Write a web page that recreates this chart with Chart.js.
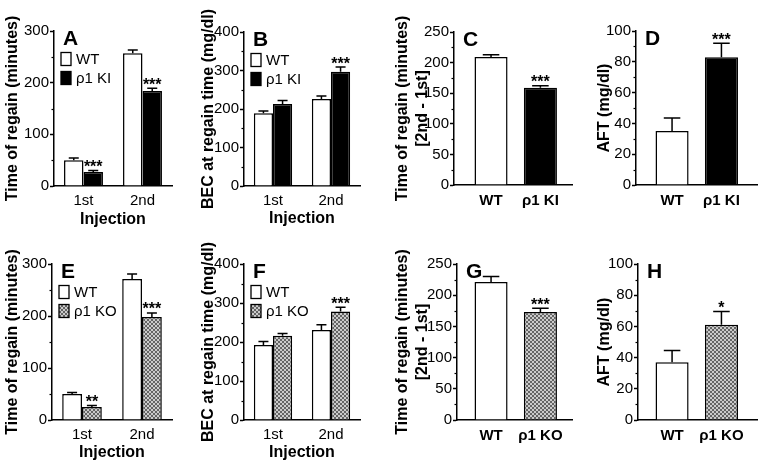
<!DOCTYPE html>
<html>
<head>
<meta charset="utf-8">
<script src="https://cdn.jsdelivr.net/npm/chart.js@4.4.0/dist/chart.umd.min.js"></script>
<style>
  body { margin: 0; background: #fff; }
  #fig { position: relative; width: 762px; height: 467px; overflow: hidden; background: #fff; }
  #fig canvas { position: absolute; }
</style>
</head>
<body>
<div id="fig"></div>
<script>
// ---- data ----
const injections = ['1st', '2nd'];
const kiGroups = ['WT', 'ρ1 KI'];
const koGroups = ['WT', 'ρ1 KO'];

// A: time of regain, WT vs rho1 KI
const regainWT_A = [50, 257];
const regainWT_A_err = [4, 6];
const regainKI = [27, 184];
const regainKI_err = [3, 5];
const regainKI_stars = ['***', '***'];

// B: BEC at regain time
const becWT_B = [189, 226];
const becWT_B_err = [6, 8];
const becKI = [213, 297];
const becKI_err = [9, 12];
const becKI_stars = ['', '***'];

// C: time of regain difference
const diffKI = [209, 159];
const diffKI_err = [4, 3];
const diffKI_stars = ['', '***'];

// D: AFT
const aftKI = [35, 83];
const aftKI_err = [8.5, 9];
const aftKI_stars = ['', '***'];

// E: time of regain, WT vs rho1 KO
const regainWT_E = [50, 271];
const regainWT_E_err = [3, 10];
const regainKO = [25, 198];
const regainKO_err = [3, 8];
const regainKO_stars = ['**', '***'];

// F: BEC at regain time
const becWT_F = [192, 231];
const becWT_F_err = [9, 13];
const becKO = [216, 278];
const becKO_err = [6, 11];
const becKO_stars = ['', '***'];

// G: time of regain difference
const diffKO = [221, 173];
const diffKO_err = [9, 6];
const diffKO_stars = ['', '***'];

// H: AFT
const aftKO = [37, 61];
const aftKO_err = [7.5, 8.5];
const aftKO_stars = ['', '*'];

// ---- styling ----
const FONT = '"Liberation Sans", Arial, Helvetica, sans-serif';
Chart.defaults.font.family = FONT;
Chart.defaults.color = '#000';
Chart.defaults.animation = false;

// crosshatch fill for the KO bars
const pc = document.createElement('canvas');
pc.width = pc.height = 4;
const pg = pc.getContext('2d');
pg.fillStyle = '#cacaca';
pg.fillRect(0, 0, 4, 4);
pg.fillStyle = '#646464';
for (let i = 0; i < 4; i++) { pg.fillRect(i, i, 1, 1); pg.fillRect(3 - i, i, 1, 1); }
const HATCH = pg.createPattern(pc, 'repeat');
const WHITE = '#ffffff';
const BLACK = '#000000';

// error bars, significance stars, panel letter, inline legend, minor ticks
const decor = {
  id: 'decor',
  afterDatasetsDraw(chart, args, opts) {
    const ctx = chart.ctx;
    const y = chart.scales.y;
    const area = chart.chartArea;
    ctx.save();

    // minor ticks on the y axis
    ctx.strokeStyle = '#000';
    ctx.lineWidth = 1.2;
    const step = y.options.ticks.stepSize;
    for (let v = step / 2; v < y.max; v += step) {
      const py = Math.round(y.getPixelForValue(v)) + 0.5;
      ctx.beginPath();
      ctx.moveTo(area.left - 2.5, py);
      ctx.lineTo(area.left, py);
      ctx.stroke();
    }

    chart.data.datasets.forEach((ds, i) => {
      const meta = chart.getDatasetMeta(i);
      meta.data.forEach((bar, j) => {
        const p = bar.getProps(['x', 'y', 'width'], true);
        const val = meta.controller.getParsed(j).y;
        const yTop = y.getPixelForValue(val + ds.errors[j]);
        const half = Math.max(5, p.width / 4);
        ctx.strokeStyle = '#000';
        ctx.lineWidth = 1.5;
        ctx.beginPath();
        ctx.moveTo(p.x, p.y);
        ctx.lineTo(p.x, yTop);
        ctx.moveTo(p.x - half, yTop);
        ctx.lineTo(p.x + half, yTop);
        ctx.stroke();
        const s = ds.stars && ds.stars[j];
        if (s) {
          ctx.fillStyle = '#000';
          ctx.font = 'bold 16px ' + FONT;
          ctx.textAlign = 'center';
          ctx.textBaseline = 'alphabetic';
          ctx.fillText(s, p.x, yTop + 1.5);
        }
      });
    });

    // panel letter
    ctx.fillStyle = '#000';
    ctx.font = 'bold 21px ' + FONT;
    ctx.textAlign = 'left';
    ctx.textBaseline = 'alphabetic';
    ctx.fillText(opts.letter, area.left + 9, area.top + 14);

    // legend inside the plot
    if (opts.legend) {
      opts.legend.forEach((item, k) => {
        const cy = area.top + 28 + k * 19;
        ctx.fillStyle = item.fill;
        ctx.fillRect(area.left + 7, cy - 6.5, 10, 13);
        ctx.strokeStyle = '#000';
        ctx.lineWidth = 1.3;
        ctx.strokeRect(area.left + 7, cy - 6.5, 10, 13);
        ctx.fillStyle = '#000';
        ctx.font = '15px ' + FONT;
        ctx.textBaseline = 'middle';
        ctx.fillText(item.label, area.left + 22, cy + 1);
      });
    }
    ctx.restore();
  }
};

function grouped(wt, wtErr, mut, mutErr, mutStars, mutFill, mutLabel) {
  return {
    labels: injections,
    datasets: [
      { label: 'WT', data: wt, errors: wtErr, backgroundColor: WHITE },
      { label: mutLabel, data: mut, errors: mutErr, stars: mutStars, backgroundColor: mutFill }
    ]
  };
}

function single(vals, errs, stars, mutFill) {
  return {
    datasets: [
      { data: vals.map((v, i) => ({ x: i + 1, y: v })), errors: errs, stars: stars,
        backgroundColor: [WHITE, mutFill] }
    ]
  };
}

const panels = [
  { letter: 'A', box: [0, 0, 182, 232], area: [54, 31, 172, 186], yTitle: 'Time of regain (minutes)', yTitleX: 12.5,
    yMax: 300, yStep: 100, xTitleY: 217, legend: [{ label: 'WT', fill: WHITE }, { label: 'ρ1 KI', fill: BLACK }],
    data: grouped(regainWT_A, regainWT_A_err, regainKI, regainKI_err, regainKI_stars, BLACK, 'ρ1 KI') },
  { letter: 'B', box: [185, 0, 180, 232], area: [244, 32, 360, 186], yTitle: 'BEC at regain time (mg/dl)', yTitleX: 209,
    yMax: 400, yStep: 100, xTitleY: 216, legend: [{ label: 'WT', fill: WHITE }, { label: 'ρ1 KI', fill: BLACK }],
    data: grouped(becWT_B, becWT_B_err, becKI, becKI_err, becKI_stars, BLACK, 'ρ1 KI') },
  { letter: 'C', box: [365, 0, 210, 232], area: [454, 32, 572, 185], yTitle: ['Time of regain (minutes)', '[2nd - 1st]'], yTitleX: 402.5,
    yMax: 250, yStep: 50, groups: kiGroups, xMin: 0.25, xMax: 2.64,
    data: single(diffKI, diffKI_err, diffKI_stars, BLACK) },
  { letter: 'D', box: [575, 0, 187, 232], area: [636, 31, 757, 185], yTitle: 'AFT (mg/dl)', yTitleX: 605,
    yMax: 100, yStep: 20, groups: kiGroups, xMin: 0.27, xMax: 2.72,
    data: single(aftKI, aftKI_err, aftKI_stars, BLACK) },
  { letter: 'E', box: [0, 232, 182, 235], area: [52, 264, 172, 420], yTitle: 'Time of regain (minutes)', yTitleX: 12.5,
    yMax: 300, yStep: 100, xTitleY: 450, legend: [{ label: 'WT', fill: WHITE }, { label: 'ρ1 KO', fill: HATCH }],
    data: grouped(regainWT_E, regainWT_E_err, regainKO, regainKO_err, regainKO_stars, HATCH, 'ρ1 KO') },
  { letter: 'F', box: [185, 232, 180, 235], area: [244, 264, 360, 420], yTitle: 'BEC at regain time (mg/dl)', yTitleX: 209,
    yMax: 400, yStep: 100, xTitleY: 450, legend: [{ label: 'WT', fill: WHITE }, { label: 'ρ1 KO', fill: HATCH }],
    data: grouped(becWT_F, becWT_F_err, becKO, becKO_err, becKO_stars, HATCH, 'ρ1 KO') },
  { letter: 'G', box: [365, 232, 210, 235], area: [457, 264, 572, 420], yTitle: ['Time of regain (minutes)', '[2nd - 1st]'], yTitleX: 402.5,
    yMax: 250, yStep: 50, groups: koGroups, xMin: 0.31, xMax: 2.64,
    data: single(diffKO, diffKO_err, diffKO_stars, HATCH) },
  { letter: 'H', box: [575, 232, 187, 235], area: [638, 264, 757, 420], yTitle: 'AFT (mg/dl)', yTitleX: 605,
    yMax: 100, yStep: 20, groups: koGroups, xMin: 0.31, xMax: 2.72,
    data: single(aftKO, aftKO_err, aftKO_stars, HATCH) }
];

const fig = document.getElementById('fig');

panels.forEach(pn => {
  const [bx, by, bw, bh] = pn.box;
  const [al, at, ar, ab] = pn.area;
  const cv = document.createElement('canvas');
  cv.width = bw;
  cv.height = bh;
  cv.style.left = bx + 'px';
  cv.style.top = by + 'px';
  fig.appendChild(cv);

  const twoLine = Array.isArray(pn.yTitle);
  const yLine = twoLine ? 1.25 : 1.2;
  const yW = al - bx;
  const xH = by + bh - ab;

  let xScale;
  if (pn.groups) {
    xScale = {
      type: 'linear', min: pn.xMin, max: pn.xMax, bounds: 'data', offset: false,
      grid: { display: false, drawTicks: false, offset: false },
      border: { color: '#000', width: 1.5 },
      ticks: { color: '#000', font: { size: 15, weight: 'bold' }, padding: 7,
        callback: v => pn.groups[v - 1] },
      afterBuildTicks: s => { s.ticks = pn.groups.map((g, i) => ({ value: i + 1 })); },
      afterFit: s => { s.height = xH; }
    };
  } else {
    xScale = {
      type: 'category',
      grid: { display: false, drawTicks: false },
      border: { color: '#000', width: 1.5 },
      ticks: { color: '#000', font: { size: 15 }, padding: 6 },
      title: { display: true, text: 'Injection', color: '#000', font: { size: 16, weight: 'bold' },
        padding: { top: 0, bottom: Math.max(0, (by + bh - pn.xTitleY) - 9.6 - 3) } },
      afterFit: s => { s.height = xH; }
    };
  }

  new Chart(cv, {
    type: 'bar',
    data: pn.data,
    options: {
      responsive: false,
      animation: false,
      layout: { padding: { left: 0, top: at - by, right: bx + bw - ar, bottom: 0 } },
      datasets: { bar: { borderColor: '#000', borderWidth: 1.5, borderSkipped: 'start',
        categoryPercentage: pn.groups ? 0.67 : 0.66, barPercentage: 1 } },
      plugins: {
        legend: { display: false },
        tooltip: { enabled: false },
        decor: { letter: pn.letter, legend: pn.legend }
      },
      scales: {
        x: xScale,
        y: {
          min: 0, max: pn.yMax,
          ticks: { stepSize: pn.yStep, color: '#000', font: { size: 15 }, padding: 1 },
          grid: { drawOnChartArea: false, drawTicks: true, tickLength: 4, tickColor: '#000', tickWidth: 1.5 },
          border: { color: '#000', width: 1.5 },
          title: { display: true, text: pn.yTitle, color: '#000',
            font: { size: 16, weight: 'bold', lineHeight: yLine },
            padding: { top: pn.yTitleX - bx - 8 * yLine, bottom: 0 } },
          afterFit: s => { s.width = yW; }
        }
      }
    },
    plugins: [decor]
  });
});
</script>
</body>
</html>
